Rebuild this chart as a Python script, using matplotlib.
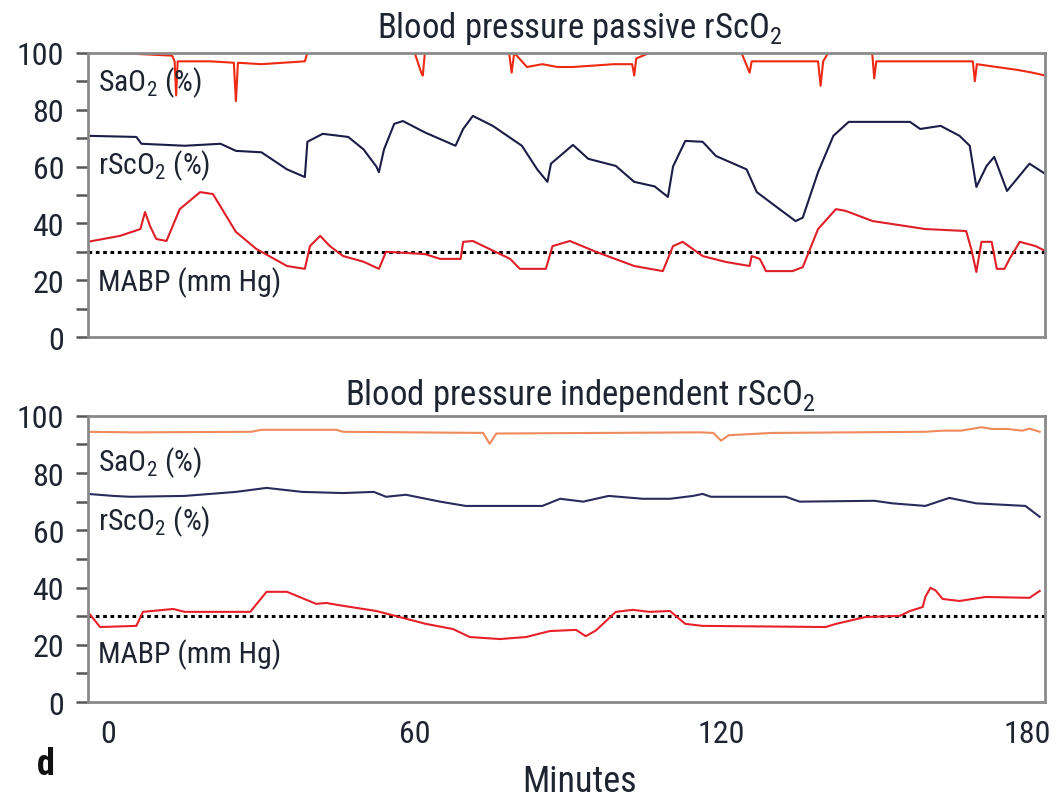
import matplotlib
matplotlib.use("Agg")
import matplotlib.pyplot as plt
from matplotlib.ticker import MultipleLocator

# ---- top panel: blood pressure passive ----
top_rsco2_t = [-4, 5.5, 6.5, 15, 22, 25, 30, 35, 38.5, 39, 42, 47, 50, 52.5, 53, 54,
               56, 57.7, 62, 68, 69.5, 71.4, 75.3, 81, 84, 86, 86.7, 91, 94, 99.4,
               103, 107, 109.6, 110.6, 113, 116.4, 119, 125, 127, 130.7, 134.6, 136,
               139, 142, 145, 157, 159, 163, 166.7, 168.7, 170, 172, 173.5, 176,
               180.4, 183.5]
top_rsco2_v = [70.8, 70.4, 68, 67.3, 68, 65.5, 65, 59, 56.3, 68.7, 71.5, 70.4, 66, 60,
               58, 66, 75, 76, 72, 67.3, 73.2, 77.8, 74.3, 67.3, 59, 54.6, 61, 67.6,
               62.7, 60.2, 54.6, 53, 49.3, 60, 69, 68.7, 63.7, 59, 51, 46, 40.8, 42,
               58, 70.8, 75.7, 75.7, 73.2, 74.3, 70.8, 67.3, 52.8, 60.2, 63.4, 51.4,
               61, 57.4]

top_mabp_t = [-4, 2.3, 6.3, 7.2, 8.2, 9.4, 11.4, 14, 18, 20.5, 25, 29, 35, 38.5, 39.5,
              41.5, 43.4, 46, 50, 53, 54.4, 62, 65, 69, 69.5, 71.4, 78.7, 80.6, 85.7,
              87, 90.4, 95.5, 103, 108.6, 110.6, 112.5, 116.4, 121, 125.6, 126,
              127.6, 128.8, 134, 136, 139, 142.5, 144.4, 149.7, 160, 168, 169, 170,
              171, 173, 174, 175.5, 176.5, 178.5, 181.6, 183.5]
top_mabp_v = [33.5, 35.6, 38, 44, 39, 34.5, 33.8, 45, 51, 50.3, 37, 31, 25, 24, 32,
              35.6, 32, 28.5, 26.5, 24, 30, 29.2, 27.5, 27.5, 33.5, 33.8, 27.5, 24,
              24, 32, 33.8, 30, 25, 23.2, 32, 33.5, 28.5, 26.4, 25, 28.5, 27.5, 23.2,
              23.2, 24.6, 38, 45, 44.4, 40.8, 38, 37.3, 31, 22.9, 33.5, 33.5, 24, 24,
              27.5, 33.5, 32, 30.3]

top_sao2_t = [1, 12.5, 13, 13.3, 13.6, 20, 24.6, 25, 25.4, 30, 38.5, 39, 60, 61.3,
              61.6, 62, 64, 78.5, 79, 79.5, 82, 85, 88, 91, 95, 99, 102.6, 103, 103.4,
              106, 124, 125.6, 126, 132, 139, 139.5, 140, 141, 149.6, 150, 150.4, 160,
              169.3, 169.7, 170.1, 174, 178, 181, 183.5]
top_sao2_v = [100, 99, 97, 85, 97, 97, 96.5, 83, 96.5, 96, 97, 100, 100, 93, 92, 100,
              100, 100, 93, 100, 95, 96, 95, 95, 95.5, 96, 96, 92, 98, 100, 100, 93,
              97, 97, 97, 88.4, 97, 100, 100, 91, 97, 97, 97, 90, 96, 95, 94, 93, 92]

# ---- bottom panel: blood pressure independent ----
bot_sao2_t = [-4, 5, 28, 30, 44.6, 46, 73.4, 74.7, 76, 116, 118.5, 120, 121.5, 130,
              160, 163.4, 167, 171, 173, 176, 179, 180.4, 182.4]
bot_sao2_v = [94.4, 94.2, 94.4, 95.1, 95.1, 94.4, 94, 90.2, 93.8, 94.2, 94, 91.3, 93.2,
              94, 94.4, 94.8, 94.8, 96, 95.4, 95.4, 94.8, 95.5, 94.4]

bot_rsco2_t = [-4, 1, 4.3, 15, 25, 31, 38, 46, 52, 54.4, 58.3, 65, 70, 85, 88.5, 93,
               98, 104.7, 110, 114.5, 116.4, 118, 132.7, 135.4, 150, 153.6, 160,
               164.7, 170, 179.6, 182.4]
bot_rsco2_v = [72.7, 72, 71.7, 72, 73.4, 74.8, 73.4, 73, 73.4, 71.7, 72.4, 70, 68.5,
               68.5, 71, 70, 72, 71, 71, 72, 72.7, 71.7, 71.7, 70, 70.3, 69.4, 68.5,
               71.3, 69.4, 68.5, 64.7]

bot_mabp_t = [-4, -1.6, 5.5, 6.8, 12.7, 15, 27.8, 31, 35, 40.7, 42.7, 46, 52.5, 62.2,
              67.5, 70.8, 76.7, 81.8, 86.5, 91.6, 93.5, 95.5, 99.4, 102.7, 106, 110,
              113, 116.4, 140.5, 142.5, 148.3, 155, 157, 159.5, 160, 161, 162, 163.4,
              166.7, 171.8, 180.4, 182.4]
bot_mabp_v = [31.5, 26.2, 26.6, 31.5, 32.5, 31.5, 31.5, 38.5, 38.5, 34.3, 34.6, 33.6,
              31.8, 27.3, 25.5, 22.7, 22, 22.7, 24.8, 25.2, 23, 25, 31.5, 32.2, 31.5,
              31.8, 27.3, 26.6, 26.2, 27.3, 29.7, 30.1, 31.8, 33.2, 36.7, 39.9, 39,
              36, 35.3, 36.7, 36.4, 38.8]

threshold = 30
x_ticks = [0, 60, 120, 180]
y_ticks = [0, 20, 40, 60, 80, 100]

plt.rcParams["font.family"] = ["Roboto Condensed", "Lato", "DejaVu Sans"]
TXT = "#1e2430"

fig = plt.figure(figsize=(10.58, 8.03), dpi=100)
ax_top = fig.add_axes([0.083, 0.579, 0.905, 0.354])
ax_bot = fig.add_axes([0.083, 0.1245, 0.905, 0.3565])

panels = [
    (ax_top, "Blood pressure passive rScO$_\\mathregular{2}$", 0.9527,
     (top_sao2_t, top_sao2_v, "#ee2a12"),
     (top_rsco2_t, top_rsco2_v, "#1c1c48"),
     (top_mabp_t, top_mabp_v, "#e01e28"),
     (89.8, 60.6, 19.4)),
    (ax_bot, "Blood pressure independent rScO$_\\mathregular{2}$", 0.4956,
     (bot_sao2_t, bot_sao2_v, "#ef8a5c"),
     (bot_rsco2_t, bot_rsco2_v, "#2a2a5c"),
     (bot_mabp_t, bot_mabp_v, "#e8202a"),
     (83.9, 63.3, 16.8)),
]

for ax, title, title_y, sao2, rsco2, mabp, label_y in panels:
    ax.axhline(threshold, color="black", linestyle=(0, (1.2, 1.2)), lw=2.2, zorder=1)
    for t, v, c in (sao2, rsco2, mabp):
        ax.plot(t, v, color=c, lw=1.5, zorder=2)

    ax.set_xlim(-4, 183.5)
    ax.set_ylim(0, 100)
    ax.set_yticks(y_ticks)
    ax.yaxis.set_minor_locator(MultipleLocator(10))
    ax.tick_params(axis="y", which="both", direction="out", length=9, width=1.8,
                   color="#555555", labelsize=23, labelcolor=TXT, pad=8)
    ax.set_xticks(x_ticks)
    ax.tick_params(axis="x", length=0, labelsize=23, labelcolor=TXT, pad=12)
    for s in ax.spines.values():
        s.set_color("#8a8a8a")
        s.set_linewidth(2)
        s.set_zorder(3)

    fig.text(0.548, title_y, title, ha="center", va="baseline", fontsize=25, color=TXT)
    ax.text(-2, label_y[0], "SaO$_\\mathregular{2}$ (%)", fontsize=21.5, color=TXT,
            va="center")
    ax.text(-2, label_y[1], "rScO$_\\mathregular{2}$ (%)", fontsize=21.5, color=TXT,
            va="center")
    ax.text(-2, label_y[2], "MABP (mm Hg)", fontsize=21.5, color=TXT, va="center")

ax_top.tick_params(axis="x", labelbottom=False)

fig.text(0.548, 0.026, "Minutes", ha="center", va="center", fontsize=26, color=TXT)
fig.text(0.043, 0.047, "d", ha="center", va="center", fontsize=26,
         fontweight="bold", color="#111111")

fig.savefig("out.png", dpi=100)
